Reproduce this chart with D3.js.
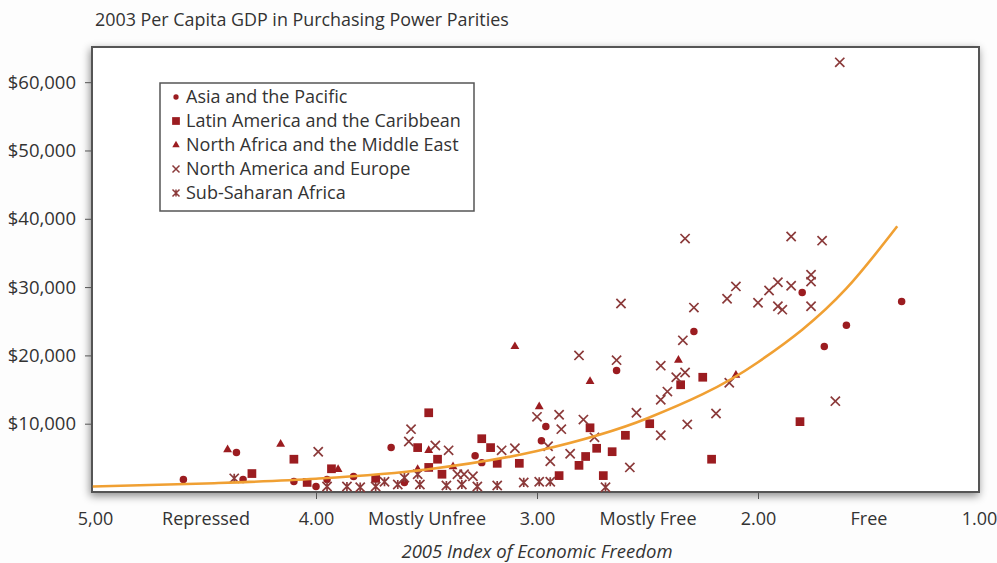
<!DOCTYPE html>
<html>
<head>
<meta charset="utf-8">
<script src="https://cdn.jsdelivr.net/npm/d3@7"></script>
<style>
  body { margin: 0; background: #fdfdfd; }
  text { font-family: "Open Sans", sans-serif; fill: #333; }
</style>
</head>
<body>
<svg id="chart" width="997" height="563"></svg>
<script>
// [index of economic freedom, GDP per capita]
const asiaPacific = [[4.60,1830],[4.36,5780],[4.33,1830],[4.10,1540],[4.00,800],[3.95,1830],[3.83,2270],[3.66,6500],[3.60,1400],[3.28,5300],[3.25,4300],[2.98,7500],[2.96,9600],[2.64,17800],[2.29,23500],[1.80,29200],[1.70,21300],[1.60,24400],[1.35,27900]];
const latinAmerica = [[4.29,2700],[4.10,4800],[4.04,1400],[3.93,3400],[3.73,2000],[3.54,6500],[3.49,11600],[3.49,3600],[3.45,4800],[3.43,2600],[3.25,7800],[3.21,6500],[3.18,4200],[3.08,4200],[2.90,2400],[2.81,3900],[2.78,5200],[2.76,9400],[2.73,6400],[2.70,2400],[2.66,5900],[2.60,8300],[2.49,10000],[2.35,15700],[2.25,16800],[2.21,4800],[1.81,10300]];
const northAfricaME = [[4.40,6200],[4.16,7000],[3.90,3300],[3.54,3300],[3.49,6100],[3.38,3700],[3.10,21300],[2.99,12500],[2.76,16200],[2.36,19300],[2.10,17100]];
const naEurope = [[3.99,5900],[3.57,9200],[3.58,7400],[3.46,6800],[3.40,6100],[3.36,2600],[3.33,2600],[3.29,2300],[3.16,6100],[3.10,6400],[3.00,11000],[2.90,11300],[2.89,9200],[2.95,6700],[2.94,4500],[2.85,5600],[2.81,20000],[2.79,10600],[2.74,8000],[2.64,19300],[2.62,27600],[2.58,3600],[2.55,11600],[2.44,8300],[2.44,18500],[2.44,13500],[2.41,14700],[2.37,16800],[2.33,17500],[2.34,22200],[2.33,37100],[2.32,9900],[2.29,27000],[2.19,11500],[2.14,28300],[2.13,16000],[2.10,30100],[2.00,27700],[1.95,29500],[1.91,30700],[1.91,27200],[1.89,26700],[1.85,30200],[1.85,37400],[1.76,31800],[1.76,30800],[1.76,27200],[1.71,36800],[1.65,13300],[1.63,62900]];
const subSaharan = [[4.37,2000],[3.95,800],[3.86,800],[3.80,700],[3.73,800],[3.69,1500],[3.63,1100],[3.60,2100],[3.54,2600],[3.53,1100],[3.41,950],[3.34,1100],[3.27,800],[3.18,950],[3.06,1400],[2.99,1500],[2.94,1500],[2.69,700]];

// trend curve
const trendX = [5.01, 4.5, 4.0, 3.5, 3.0, 2.5, 2.0, 1.6, 1.37];
const trendY = [800, 1250, 1950, 3300, 6000, 10800, 19000, 29800, 38900];

const yTicks = [10000, 20000, 30000, 40000, 50000, 60000];
const xTicks = [5, 4.5, 4, 3.5, 3, 2.5, 2, 1.5, 1];
const xTickLabels = ["5,00", "Repressed", "4.00", "Mostly Unfree", "3.00", "Mostly Free", "2.00", "Free", "1.00"];
const seriesNames = ["Asia and the Pacific", "Latin America and the Caribbean", "North Africa and the Middle East", "North America and Europe", "Sub-Saharan Africa"];

const svg = d3.select("#chart");
const frame = { left: 92, right: 979, top: 47, bottom: 492 };

const x = d3.scaleLinear().domain([5, 1]).range([95, 979]);
const y = d3.scaleLinear().domain([0, 65150]).range([frame.bottom, frame.top]);

const red = "#9b1c20";
const xColor = "#8b3a3a";

// shadow around the plot frame
const defs = svg.append("defs");
defs.append("filter")
    .attr("id", "shadow")
    .attr("x", "-5%").attr("y", "-5%")
    .attr("width", "110%").attr("height", "115%")
    .append("feDropShadow")
    .attr("dx", -1).attr("dy", 3)
    .attr("stdDeviation", 4)
    .attr("flood-color", "#000")
    .attr("flood-opacity", 0.45);

svg.append("rect")
    .attr("x", frame.left).attr("y", frame.top)
    .attr("width", frame.right - frame.left)
    .attr("height", frame.bottom - frame.top)
    .attr("fill", "#fff")
    .attr("stroke", "#555")
    .attr("stroke-width", 2)
    .attr("filter", "url(#shadow)");

// title
svg.append("text")
    .attr("x", 95).attr("y", 26)
    .attr("font-size", "17.9px")
    .text("2003 Per Capita GDP in Purchasing Power Parities");

// y axis
const yAxis = svg.append("g")
    .attr("transform", `translate(${frame.left},0)`)
    .call(d3.axisLeft(y).tickValues(yTicks)
        .tickFormat(d => "$" + d3.format(",")(d))
        .tickSize(7).tickPadding(9));
yAxis.select(".domain").remove();
yAxis.selectAll("line").attr("stroke", "#555");
yAxis.selectAll("text").attr("font-size", "18.5px").attr("font-family", "Open Sans").attr("fill", "#333");

// x axis
const xAxis = svg.append("g")
    .attr("transform", `translate(0,${frame.bottom})`)
    .call(d3.axisBottom(x).tickValues(xTicks)
        .tickFormat((d, i) => xTickLabels[i])
        .tickSize(7).tickPadding(13));
xAxis.select(".domain").remove();
xAxis.selectAll(".tick line")
    .attr("stroke", "#555")
    .attr("display", d => (d % 1 === 0 && d !== 5 && d !== 1) ? null : "none");
xAxis.selectAll("text").attr("font-size", "18px").attr("font-family", "Open Sans").attr("fill", "#333");

svg.append("text")
    .attr("x", 537).attr("y", 558)
    .attr("text-anchor", "middle")
    .attr("font-size", "18.5px")
    .attr("font-style", "italic")
    .text("2005 Index of Economic Freedom");

// marker shapes
const xPath = s => `M${-s},${-s}L${s},${s}M${-s},${s}L${s},${-s}`;
const starPath = s => xPath(s) + `M0,${-s}L0,${s}`;
const shapes = [
    { data: asiaPacific, d: d3.symbol().type(d3.symbolCircle).size(44)(), legend: d3.symbol().type(d3.symbolCircle).size(22)(), fill: red, stroke: "none" },
    { data: latinAmerica, d: d3.symbol().type(d3.symbolSquare).size(76)(), legend: d3.symbol().type(d3.symbolSquare).size(60)(), fill: red, stroke: "none" },
    { data: northAfricaME, d: d3.symbol().type(d3.symbolTriangle).size(34)(), legend: d3.symbol().type(d3.symbolTriangle).size(24)(), fill: red, stroke: "none" },
    { data: naEurope, d: xPath(4.6), legend: xPath(3.5), fill: "none", stroke: xColor },
    { data: subSaharan, d: starPath(4.6), legend: starPath(3.5), fill: "none", stroke: xColor }
];

const plot = svg.append("g");
shapes.forEach(s => {
    plot.append("g").selectAll("path")
        .data(s.data)
        .join("path")
        .attr("transform", d => `translate(${x(d[0])},${y(d[1])})`)
        .attr("d", s.d)
        .attr("fill", s.fill)
        .attr("stroke", s.stroke)
        .attr("stroke-width", 1.7);
});

// trend line
const trend = trendX.map((v, i) => [v, trendY[i]]);
svg.append("path")
    .datum(trend)
    .attr("fill", "none")
    .attr("stroke", "#f0a033")
    .attr("stroke-width", 2.6)
    .attr("d", d3.line().x(d => x(d[0])).y(d => y(d[1])).curve(d3.curveMonotoneX));

// legend
const legend = svg.append("g");
legend.append("rect")
    .attr("x", 160).attr("y", 83)
    .attr("width", 314).attr("height", 128)
    .attr("fill", "#fff")
    .attr("stroke", "#555")
    .attr("stroke-width", 1.5);

seriesNames.forEach((name, i) => {
    const cy = 97 + i * 24;
    legend.append("path")
        .attr("transform", `translate(176,${cy})`)
        .attr("d", shapes[i].legend)
        .attr("fill", shapes[i].fill)
        .attr("stroke", shapes[i].stroke)
        .attr("stroke-width", 1.5);
    legend.append("text")
        .attr("x", 186).attr("y", cy)
        .attr("dy", "0.35em")
        .attr("font-size", "18px")
        .text(name);
});
</script>
</body>
</html>
